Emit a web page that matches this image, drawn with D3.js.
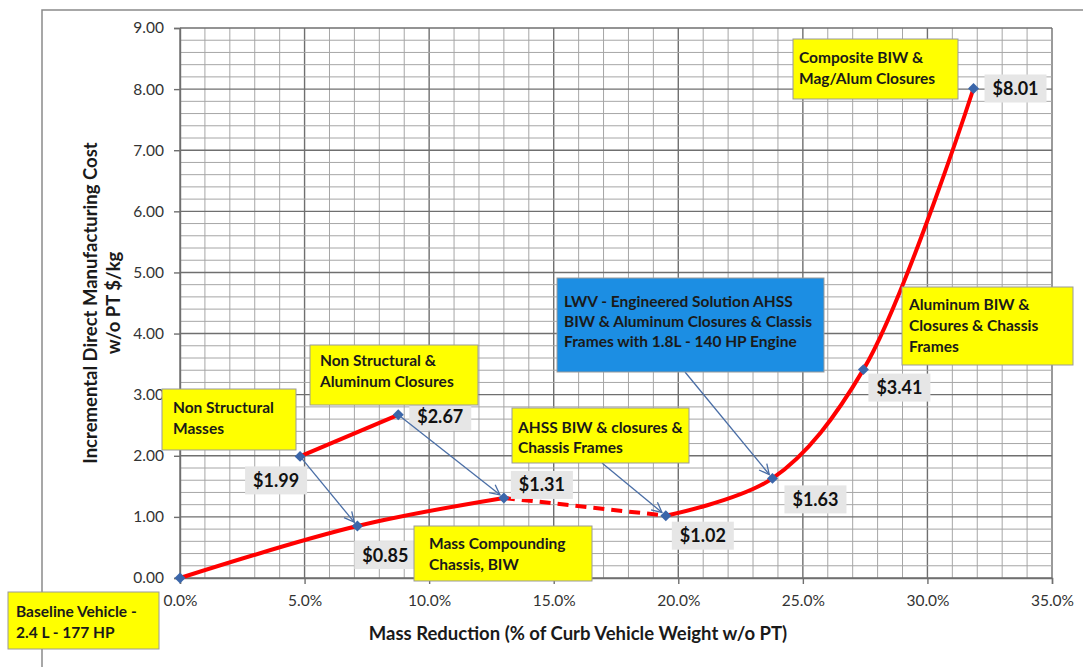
<!DOCTYPE html>
<html>
<head>
<meta charset="utf-8">
<script src="https://cdn.jsdelivr.net/npm/d3@7"></script>
<style>
  body { margin: 0; background: #fff; }
  svg { display: block; }
  text { font-family: Lato, "Open Sans", sans-serif; }
</style>
</head>
<body>
<svg id="chart" width="1083" height="667"></svg>
<script>
// main path: mass reduction (%) vs incremental cost ($/kg)
const massReduction = [0, 7.12, 13.0, 19.5, 23.78, 27.43, 31.85]
const costPerKg = [0, 0.85, 1.31, 1.02, 1.63, 3.41, 8.01]

// side branch (non structural options)
const branchMass = [4.82, 8.76]
const branchCost = [1.99, 2.67]

const xTicks = [0, 5, 10, 15, 20, 25, 30, 35]
const yTicks = [0, 1, 2, 3, 4, 5, 6, 7, 8, 9]

// callout boxes
const noteText = [
  ['Baseline Vehicle -', '2.4 L - 177 HP'],
  ['Non Structural', 'Masses'],
  ['Non Structural &', 'Aluminum Closures'],
  ['Mass Compounding', 'Chassis, BIW'],
  ['AHSS BIW & closures &', 'Chassis Frames'],
  ['LWV - Engineered Solution AHSS', 'BIW & Aluminum Closures & Classis', 'Frames with 1.8L - 140 HP Engine'],
  ['Aluminum BIW &', 'Closures & Chassis', 'Frames'],
  ['Composite BIW &', 'Mag/Alum Closures']
]

// layout of the callouts (pixels), kept apart from the values
const noteBox = [
  { x: 8, y: 592, w: 151, h: 57, pad: 8, top: 25, lh: 21, fill: '#ffff00' },
  { x: 162, y: 389, w: 134, h: 61, pad: 11, top: 24, lh: 21, fill: '#ffff00' },
  { x: 310, y: 345, w: 168, h: 60, pad: 10, top: 21, lh: 21, fill: '#ffff00' },
  { x: 414, y: 526, w: 178, h: 55, pad: 15, top: 23, lh: 21, fill: '#ffff00' },
  { x: 512, y: 408, w: 177, h: 55, pad: 6, top: 25, lh: 20, fill: '#ffff00' },
  { x: 557, y: 278, w: 267, h: 94, pad: 7, top: 29, lh: 20, fill: '#1c8ee3' },
  { x: 902, y: 287, w: 171, h: 78, pad: 7, top: 23, lh: 21, fill: '#ffff00' },
  { x: 793, y: 39, w: 165, h: 60, pad: 6, top: 24, lh: 21, fill: '#ffff00' }
]

// value label offsets from their point (pixels)
const mainLabelOffset = [null, [28, 29], [38, -13], [37, 20], [43, 21], [36, 18], [42, 0]]
const branchLabelOffset = [[-24, 24], [42, 2]]

const margin = { top: 28, right: 31, bottom: 89, left: 180 }
const width = 1083 - margin.left - margin.right
const height = 667 - margin.top - margin.bottom

const svg = d3.select('#chart')

// outer frame of the chart object (cut at right and bottom)
svg.append('path')
  .attr('d', 'M42,667 L42,10 L1083,10')
  .attr('fill', 'none')
  .attr('stroke', '#8a8a8a')
  .attr('stroke-width', 1.5)

const g = svg.append('g')
  .attr('transform', `translate(${margin.left}, ${margin.top})`)

const xScale = d3.scaleLinear()
  .domain([0, 35])
  .range([0, width])

const yScale = d3.scaleLinear()
  .domain([0, 9])
  .range([height, 0])

// minor grid
const minorX = d3.range(0, 35.01, 1)
const minorY = d3.range(0, 9.01, 0.2)

g.append('g').selectAll('line')
  .data(minorX)
  .join('line')
  .attr('x1', d => xScale(d)).attr('x2', d => xScale(d))
  .attr('y1', 0).attr('y2', height)
  .attr('stroke', d => d % 5 === 0 ? '#6f6f6f' : '#a6a6a6')
  .attr('stroke-width', d => d % 5 === 0 ? 1.4 : 1)

g.append('g').selectAll('line')
  .data(minorY)
  .join('line')
  .attr('x1', 0).attr('x2', width)
  .attr('y1', d => yScale(d)).attr('y2', d => yScale(d))
  .attr('stroke', d => Math.abs(d - Math.round(d)) < 1e-6 ? '#6f6f6f' : '#a6a6a6')
  .attr('stroke-width', d => Math.abs(d - Math.round(d)) < 1e-6 ? 1.4 : 1)

// axes
const xAxis = d3.axisBottom(xScale)
  .tickValues(xTicks)
  .tickSize(6)
  .tickPadding(11)
  .tickFormat(d => d.toFixed(1) + '%')

const yAxis = d3.axisLeft(yScale)
  .tickValues(yTicks)
  .tickSize(6)
  .tickPadding(10)
  .tickFormat(d => d.toFixed(2))

const gx = g.append('g')
  .attr('transform', `translate(0, ${height})`)
  .call(xAxis)

const gy = g.append('g').call(yAxis)

for (const ax of [gx, gy]) {
  ax.select('.domain').attr('stroke', '#6f6f6f').attr('stroke-width', 1.4)
  ax.selectAll('.tick line').attr('stroke', '#6f6f6f').attr('stroke-width', 1.4)
  ax.selectAll('.tick text')
    .attr('fill', '#333')
    .style('font-size', '15.5px')
}

// axis titles
svg.append('text')
  .attr('x', margin.left + width / 2 - 38)
  .attr('y', 640)
  .attr('text-anchor', 'middle')
  .style('font-size', '18.5px')
  .style('font-weight', 'bold')
  .attr('fill', '#1a1a1a')
  .text('Mass Reduction (% of Curb Vehicle Weight w/o PT)')

const yTitle = svg.append('text')
  .attr('transform', `translate(97, ${margin.top + height / 2}) rotate(-90)`)
  .attr('text-anchor', 'middle')
  .style('font-size', '18.5px')
  .style('font-weight', 'bold')
  .attr('fill', '#1a1a1a')

yTitle.append('tspan').attr('x', 0).attr('dy', 0).text('Incremental Direct Manufacturing Cost')
yTitle.append('tspan').attr('x', 0).attr('dy', 23).text('w/o PT $/kg')

// lines
const mainPts = massReduction.map((m, i) => [m, costPerKg[i]])
const branchPts = branchMass.map((m, i) => [m, branchCost[i]])

const smooth = d3.line()
  .x(d => xScale(d[0]))
  .y(d => yScale(d[1]))
  .curve(d3.curveCatmullRom.alpha(0.5))

const straight = d3.line()
  .x(d => xScale(d[0]))
  .y(d => yScale(d[1]))

const segments = [
  { pts: mainPts.slice(0, 3), gen: smooth, dash: null },
  { pts: mainPts.slice(2, 4), gen: straight, dash: '11,7' },
  { pts: mainPts.slice(3), gen: smooth, dash: null },
  { pts: branchPts, gen: straight, dash: null }
]

g.append('g').selectAll('path')
  .data(segments)
  .join('path')
  .attr('d', d => d.gen(d.pts))
  .attr('fill', 'none')
  .attr('stroke', '#ff0000')
  .attr('stroke-width', 4)
  .attr('stroke-dasharray', d => d.dash)

// arrows
svg.append('defs').append('marker')
  .attr('id', 'arrow')
  .attr('viewBox', '0 0 12 12')
  .attr('refX', 11)
  .attr('refY', 6)
  .attr('markerWidth', 12)
  .attr('markerHeight', 12)
  .attr('markerUnits', 'userSpaceOnUse')
  .attr('orient', 'auto')
  .append('path')
  .attr('d', 'M1,1 L11,6 L1,11')
  .attr('fill', 'none')
  .attr('stroke', '#4a6ea6')
  .attr('stroke-width', 1.3)

function px(p) {
  return [margin.left + xScale(p[0]), margin.top + yScale(p[1])]
}

const arrows = [
  { from: px(branchPts[0]), to: px(mainPts[1]) },
  { from: px(branchPts[1]), to: px(mainPts[2]) },
  { from: [noteBox[4].x + 90, noteBox[4].y + noteBox[4].h], to: px(mainPts[3]) },
  { from: [noteBox[5].x + 128, noteBox[5].y + noteBox[5].h], to: px(mainPts[4]) }
]

svg.append('g').selectAll('line')
  .data(arrows)
  .join('line')
  .each(function (d) {
    const dx = d.to[0] - d.from[0]
    const dy = d.to[1] - d.from[1]
    const len = Math.hypot(dx, dy)
    const cut = 5
    d3.select(this)
      .attr('x1', d.from[0]).attr('y1', d.from[1])
      .attr('x2', d.to[0] - dx / len * cut)
      .attr('y2', d.to[1] - dy / len * cut)
  })
  .attr('stroke', '#4a6ea6')
  .attr('stroke-width', 1.3)
  .attr('marker-end', 'url(#arrow)')

// markers
const allPts = mainPts.concat(branchPts)
g.append('g').selectAll('path')
  .data(allPts)
  .join('path')
  .attr('d', d3.symbol(d3.symbolSquare, 60))
  .attr('transform', d => `translate(${xScale(d[0])}, ${yScale(d[1])}) rotate(45)`)
  .attr('fill', '#3b66aa')

// value labels
const labelData = []
mainPts.forEach((p, i) => {
  if (mainLabelOffset[i]) labelData.push({ p, off: mainLabelOffset[i] })
})
branchPts.forEach((p, i) => labelData.push({ p, off: branchLabelOffset[i] }))

const labels = g.append('g').selectAll('g')
  .data(labelData)
  .join('g')
  .attr('transform', d => `translate(${xScale(d.p[0]) + d.off[0]}, ${yScale(d.p[1]) + d.off[1]})`)

labels.append('rect')
  .attr('x', -31).attr('y', -14)
  .attr('width', 62).attr('height', 28)
  .attr('fill', '#e6e6e6')

labels.append('text')
  .attr('text-anchor', 'middle')
  .attr('dy', 6.5)
  .style('font-size', '18px')
  .style('font-weight', 'bold')
  .attr('fill', '#111')
  .text(d => '$' + d.p[1].toFixed(2))

// callouts
const notes = svg.append('g').selectAll('g')
  .data(noteText)
  .join('g')
  .attr('transform', (d, i) => `translate(${noteBox[i].x}, ${noteBox[i].y})`)

notes.append('rect')
  .attr('width', (d, i) => noteBox[i].w)
  .attr('height', (d, i) => noteBox[i].h)
  .attr('fill', (d, i) => noteBox[i].fill)
  .attr('stroke', '#9a9a9a')
  .attr('stroke-width', 1)

notes.each(function (lines, i) {
  const b = noteBox[i]
  d3.select(this).selectAll('text')
    .data(lines)
    .join('text')
    .attr('x', b.pad)
    .attr('y', (d, j) => b.top + j * b.lh)
    .style('font-size', '15.5px')
    .style('font-weight', 'bold')
    .attr('fill', '#1a1a1a')
    .text(d => d)
})
</script>
</body>
</html>
